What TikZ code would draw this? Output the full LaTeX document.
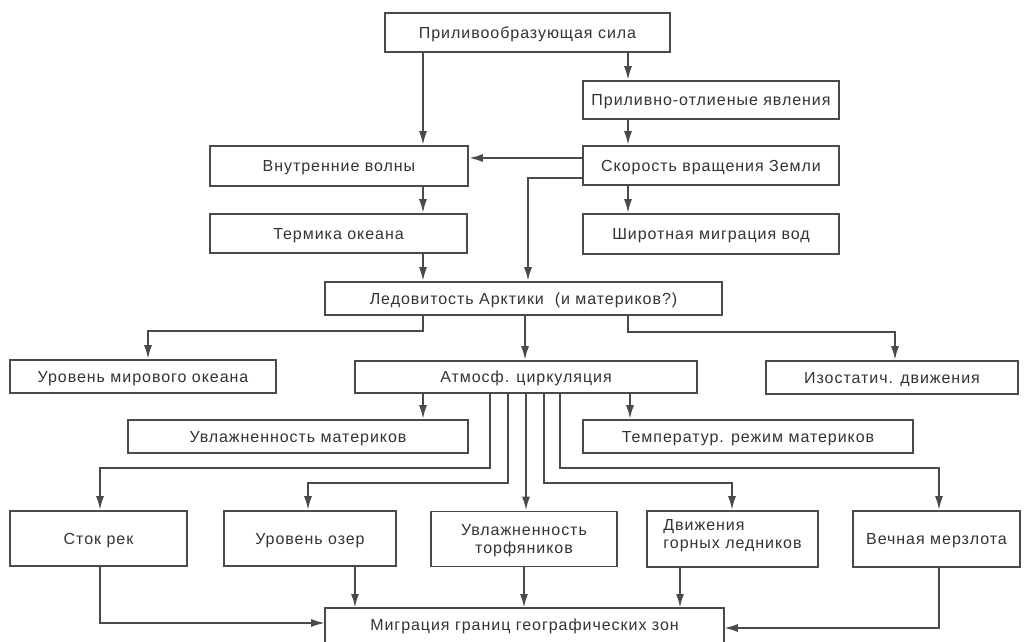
\documentclass[tikz,border=0pt]{standalone}
\usepackage{fontspec}
\setmainfont{Liberation Sans}[LetterSpace=6]
\usetikzlibrary{arrows.meta}
\definecolor{ink}{HTML}{333333}
\definecolor{wire}{HTML}{4A4A4A}
\begin{document}
\begin{tikzpicture}[x=1pt,y=-1pt,
  box/.style={draw=wire, line width=1.6pt, text=ink, inner sep=0pt,
    font=\fontsize{16}{18.5}\selectfont, text depth=0pt, anchor=center},
  arr/.style={draw=wire, line width=2.2pt, -{Latex[length=14pt,width=8pt]}},
  ]
\useasboundingbox[fill=white] (0,0) rectangle (1026,641);

% boxes
\node[box, minimum width=285, minimum height=39] (top)   at (527.5,32.5) {Приливообразующая сила};
\node[box, minimum width=256, minimum height=38] (tidal) at (711,100)    {Приливно-отлиеные явления};
\node[box, minimum width=256, minimum height=39] (speed) at (711,165.5)  {Скорость вращения Земли};
\node[box, minimum width=256, minimum height=40] (lat)   at (711,234)    {Широтная миграция вод};
\node[box, minimum width=258, minimum height=40] (inner) at (339,166)    {Внутренние волны};
\node[box, minimum width=257, minimum height=39] (therm) at (338.5,233.5){Термика океана};
\node[box, minimum width=397, minimum height=33] (ice)   at (523.5,298.5){Ледовитость Арктики\ \ (и материков?)};
\node[box, minimum width=266, minimum height=33] (sea)   at (143,376.5)  {Уровень мирового океана};
\node[box, minimum width=342, minimum height=32] (atm)   at (526,377)    {Атмосф. циркуляция};
\node[box, minimum width=252, minimum height=33] (iso)   at (892,377.5)  {Изостатич. движения};
\node[box, minimum width=340, minimum height=33] (hum)   at (298,436.5)  {Увлажненность материков};
\node[box, minimum width=330, minimum height=33] (temp)  at (748,436.5)  {Температур. режим материков};
\node[box, minimum width=177, minimum height=55] (river) at (98.5,538.5) {Сток рек};
\node[box, minimum width=172, minimum height=55] (lake)  at (310,538.5)  {Уровень озер};
\node[box, minimum width=186, minimum height=55, align=center] (peat) at (524,539) {Увлажненность\\торфяников};
\node[box, minimum width=171, minimum height=56, align=left, text depth=10pt] (glac) at (732.5,539) {Движения\\горных ледников};
\node[box, minimum width=167, minimum height=56] (perm)  at (936.5,539)  {Вечная мерзлота};
% bottom box runs past the lower edge of the page
\node[box, draw=none, minimum width=397, minimum height=31, anchor=north] (mig) at (524.5,608) {Миграция границ географических зон};
\draw[draw=wire, line width=1.6pt] (mig.north west |- 0,650) -- (mig.north west) -- (mig.north east) -- (mig.north east |- 0,650);

% connectors, upper part
\draw[arr] (top.south -| 423,0) -- (inner.north -| 423,0);
\draw[arr] (top.south -| 628,0) -- (tidal.north -| 628,0);
\draw[arr] (tidal.south -| 628,0) -- (speed.north -| 628,0);
\draw[arr] (speed.west |- 0,158) -- (inner.east |- 0,158);
\draw[arr] (speed.west |- 0,178) -| (ice.north -| 528,0);
\draw[arr] (speed.south -| 628,0) -- (lat.north -| 628,0);
\draw[arr] (inner.south -| 423,0) -- (therm.north -| 423,0);
\draw[arr] (therm.south -| 423,0) -- (ice.north -| 423,0);

% from the ice cover
\draw[arr] (ice.south -| 423,0) -- (423,331) -| (sea.north -| 148,0);
\draw[arr] (ice.south -| 525,0) -- (atm.north -| 525,0);
\draw[arr] (ice.south -| 628,0) -- (628,332) -| (iso.north -| 895,0);

% from the atmospheric circulation
\draw[arr] (atm.south -| 423,0) -- (hum.north -| 423,0);
\draw[arr] (atm.south -| 630,0) -- (temp.north -| 630,0);
\draw[arr] (atm.south -| 490,0) -- (490,468) -| (river.north -| 100,0);
\draw[arr] (atm.south -| 508,0) -- (508,483) -| (lake.north -| 308,0);
\draw[arr] (atm.south -| 526,0) -- (peat.north -| 526,0);
\draw[arr] (atm.south -| 544,0) -- (544,483) -| (glac.north -| 732,0);
\draw[arr] (atm.south -| 560,0) -- (560,468) -| (perm.north -| 939,0);

% into the zone migration box
\draw[arr] (river.south -| 100,0) |- (mig.west |- 0,623);
\draw[arr] (lake.south -| 355,0) -- (mig.north -| 355,0);
\draw[arr] (peat.south -| 524,0) -- (mig.north -| 524,0);
\draw[arr] (glac.south -| 680,0) -- (mig.north -| 680,0);
\draw[arr] (perm.south -| 939,0) |- (mig.east |- 0,628);
\end{tikzpicture}
\end{document}
